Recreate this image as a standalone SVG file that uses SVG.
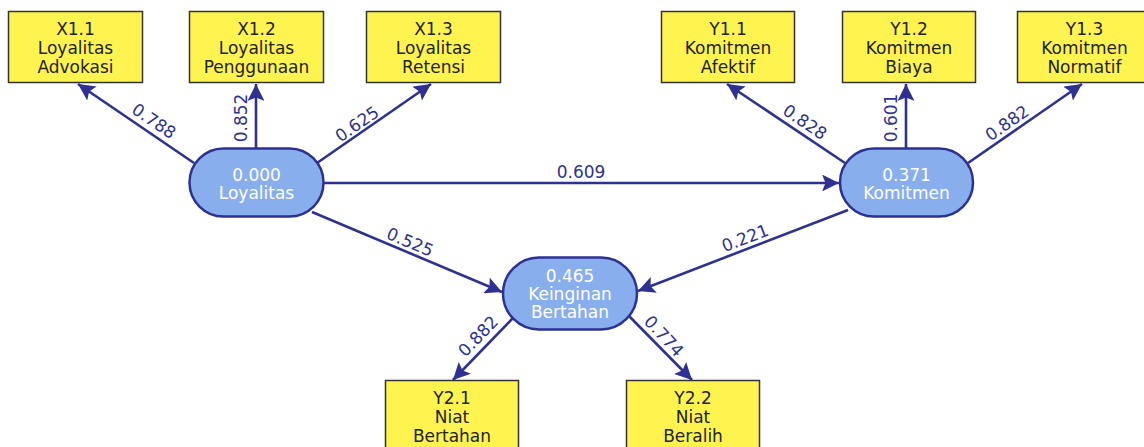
<svg xmlns="http://www.w3.org/2000/svg" width="1144" height="447" viewBox="0 0 1144 447">
<defs>
<style>
.box rect{fill:#FFF44F;stroke:#333;stroke-width:1.5}
.box text{font-family:"DejaVu Sans",sans-serif;font-size:17px;fill:#222;text-anchor:middle}
.lat rect{fill:#88AEEE;stroke:#2E3192;stroke-width:2.5}
.lat text{font-family:"DejaVu Sans",sans-serif;font-size:17px;fill:#fff;text-anchor:middle}
.edges line{stroke:#2E3192;stroke-width:2.6;marker-end:url(#ah)}
.lbl{font-family:"DejaVu Sans",sans-serif;font-size:17px;fill:#2E3192;text-anchor:middle;dominant-baseline:central}
</style>
<marker id="ah" viewBox="0 0 10 10" refX="10" refY="5" markerWidth="6.5" markerHeight="6.5" markerUnits="strokeWidth" orient="auto"><path d="M0,0 L10,5 L0,10 L2,5 z" fill="#2E3192"/></marker>
</defs>
<rect width="1144" height="447" fill="#fff"/>
<g class="edges">
<line x1="194" y1="163" x2="78" y2="84"/>
<line x1="256" y1="148" x2="256" y2="84"/>
<line x1="317" y1="163" x2="431" y2="84"/>
<line x1="323" y1="183" x2="839" y2="183"/>
<line x1="845" y1="163" x2="727" y2="84"/>
<line x1="906" y1="148" x2="906" y2="84"/>
<line x1="968" y1="163" x2="1082" y2="84"/>
<line x1="312" y1="212" x2="502" y2="292"/>
<line x1="848" y1="210" x2="638" y2="291"/>
<line x1="513" y1="318" x2="453" y2="380"/>
<line x1="629" y1="316" x2="692" y2="380"/>
<text class="lbl" transform="translate(154,121) rotate(34)">0.788</text>
<text class="lbl" transform="translate(241,118) rotate(-90)">0.852</text>
<text class="lbl" transform="translate(357,124) rotate(-35)">0.625</text>
<text class="lbl" transform="translate(805,122) rotate(34)">0.828</text>
<text class="lbl" transform="translate(891,118) rotate(-90)">0.601</text>
<text class="lbl" transform="translate(1007,123) rotate(-35)">0.882</text>
<text class="lbl" x="581" y="172">0.609</text>
<text class="lbl" transform="translate(410,242) rotate(22.8)">0.525</text>
<text class="lbl" transform="translate(745,238) rotate(-21)">0.221</text>
<text class="lbl" transform="translate(478,336) rotate(-46)">0.882</text>
<text class="lbl" transform="translate(664,336) rotate(47)">0.774</text>
</g>
<g id="X1.1" class="box"><rect x="8.5" y="11.5" width="134" height="71"/><text x="75.5" y="35">X1.1</text><text x="75.5" y="54">Loyalitas</text><text x="75.5" y="73">Advokasi</text></g>
<g id="X1.2" class="box"><rect x="189.5" y="11.5" width="134" height="71"/><text x="256.5" y="35">X1.2</text><text x="256.5" y="54">Loyalitas</text><text x="256.5" y="73">Penggunaan</text></g>
<g id="X1.3" class="box"><rect x="366.5" y="11.5" width="134" height="71"/><text x="433.5" y="35">X1.3</text><text x="433.5" y="54">Loyalitas</text><text x="433.5" y="73">Retensi</text></g>
<g id="Y1.1" class="box"><rect x="661.5" y="11.5" width="133" height="71"/><text x="728" y="35">Y1.1</text><text x="728" y="54">Komitmen</text><text x="728" y="73">Afektif</text></g>
<g id="Y1.2" class="box"><rect x="842.5" y="11.5" width="133" height="71"/><text x="909" y="35">Y1.2</text><text x="909" y="54">Komitmen</text><text x="909" y="73">Biaya</text></g>
<g id="Y1.3" class="box"><rect x="1017.5" y="11.5" width="134" height="71"/><text x="1084.5" y="35">Y1.3</text><text x="1084.5" y="54">Komitmen</text><text x="1084.5" y="73">Normatif</text></g>
<g id="Y2.1" class="box"><rect x="385.5" y="380.5" width="133" height="71"/><text x="452" y="404">Y2.1</text><text x="452" y="423">Niat</text><text x="452" y="442">Bertahan</text></g>
<g id="Y2.2" class="box"><rect x="626.5" y="380.5" width="133" height="71"/><text x="693" y="404">Y2.2</text><text x="693" y="423">Niat</text><text x="693" y="442">Beralih</text></g>
<g id="Loyalitas" class="lat"><rect x="189.5" y="148.5" width="134" height="68" rx="34" ry="34"/><text x="256.5" y="181">0.000</text><text x="256.5" y="199">Loyalitas</text></g>
<g id="Komitmen" class="lat"><rect x="840" y="148.5" width="133" height="68" rx="34" ry="34"/><text x="906.5" y="181">0.371</text><text x="906.5" y="199">Komitmen</text></g>
<g id="Keinginan" class="lat"><rect x="503" y="257.5" width="134" height="72" rx="36" ry="36"/><text x="570" y="282">0.465</text><text x="570" y="300">Keinginan</text><text x="570" y="318">Bertahan</text></g>
</svg>
